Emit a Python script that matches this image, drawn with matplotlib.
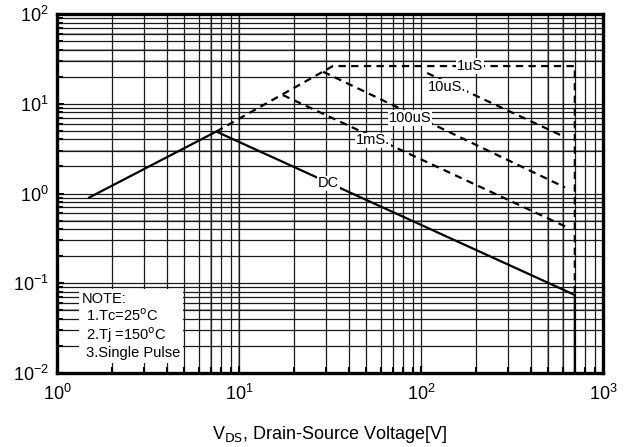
import numpy as np
import matplotlib.pyplot as plt

plt.rcParams['font.family'] = ['Liberation Sans', 'DejaVu Sans']
plt.rcParams['axes.unicode_minus'] = False

# --- Safe operating area curves ---
dc_v = [1.5, 7.5, 700, 700]
dc_i = [0.90, 4.9, 0.074, 0.01]

us1_v = [7.5, 32.8, 700, 700]
us1_i = [4.9, 26.3, 26.3, 0.074]

us10_v = [108, 618]
us10_i = [22.0, 4.25]

us100_v = [29, 618]
us100_i = [22.7, 1.17]

ms1_v = [17.4, 645]
ms1_i = [12.5, 0.414]

# label text and where it sits on each curve
curve_labels = ['1uS', '10uS.', '100uS', '1mS.', 'DC']
label_v = [186, 139, 87, 54.5, 31]
label_i = [26.3, 15.4, 6.9, 3.9, 1.3]

note_text = 'NOTE:\n 1.Tc=25$^{\\rm o}$C\n 2.Tj =150$^{\\rm o}$C\n 3.Single Pulse'

fig = plt.figure(figsize=(6.29, 4.47), dpi=100)
ax = fig.add_axes([57 / 629, 1 - 373 / 447, 546 / 629, 359 / 447])
ax.set_xscale('log')
ax.set_yscale('log')
ax.set_xlim(1, 1000)
ax.set_ylim(0.01, 100)

# --- grid like the scanned datasheet ---
ax.grid(True, which='both', color='0.1', linewidth=0.9)
for v in [7, 10, 500, 600]:
    ax.axvline(v, color='0.6', linewidth=1.2, zorder=0.5)
for i in [0.5, 3, 30, 60, 40, 0.05]:
    ax.axhline(i, color='0.6', linewidth=1.2, zorder=0.5)
ax.set_axisbelow(True)

dash = (3.3, 2.4)
ax.plot(dc_v, dc_i, color='black', linewidth=1.6, zorder=3)
ax.plot(us1_v, us1_i, color='black', linewidth=1.6, dashes=dash, zorder=3)
ax.plot(us10_v, us10_i, color='black', linewidth=1.6, dashes=dash, zorder=3)
ax.plot(us100_v, us100_i, color='black', linewidth=1.6, dashes=dash, zorder=3)
ax.plot(ms1_v, ms1_i, color='black', linewidth=1.6, dashes=dash, zorder=3)

for txt, v, i in zip(curve_labels, label_v, label_i):
    ax.text(v, i, txt, fontsize=10.5, ha='center', va='center', zorder=4,
            bbox=dict(facecolor='white', edgecolor='none', pad=0.5))

ax.text(0.045, 0.225, note_text, transform=ax.transAxes, fontsize=10.5,
        ha='left', va='top', linespacing=1.1, zorder=4,
        bbox=dict(facecolor='white', edgecolor='none', pad=2))

# --- frame and ticks ---
for s in ax.spines.values():
    s.set_linewidth(2.4)
ax.tick_params(which='both', direction='in', labelsize=13, width=1.5,
               top=False, right=False)
ax.tick_params(which='major', length=5)
ax.tick_params(which='minor', length=4)
ax.tick_params(axis='x', pad=8)
ax.tick_params(axis='y', pad=6)

ax.set_xlabel('V$_{\\rm DS}$, Drain-Source Voltage[V]', fontsize=13, labelpad=14)

fig.savefig('out.png', dpi=100)
